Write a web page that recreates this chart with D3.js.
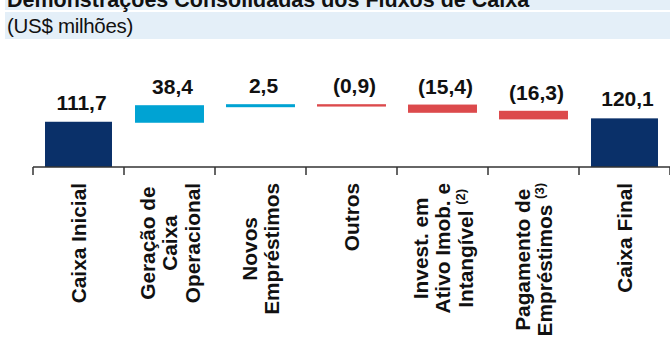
<!DOCTYPE html>
<html>
<head>
<meta charset="utf-8">
<script src="https://cdn.jsdelivr.net/npm/d3@7"></script>
<style>
  body { margin: 0; background: #fff; }
  svg { display: block; font-family: "Liberation Sans", Arial, sans-serif; }
</style>
</head>
<body>
<div id="chart"></div>
<script>
// chart data
var categories = [
    ["Caixa Inicial"],
    ["Geração de", "Caixa", "Operacional"],
    ["Novos", "Empréstimos"],
    ["Outros"],
    ["Invest. em", "Ativo Imob. e", "Intangível"],
    ["Pagamento de", "Empréstimos"],
    ["Caixa Final"]
];
var notes = [null, null, null, null, "(2)", "(3)", null];
var values = [111.7, 38.4, 2.5, -0.9, -15.4, -16.3, 120.1];
var kinds = ["total", "up", "up", "down", "down", "down", "total"];

var width = 670,
    height = 338,
    axisY = 167;

var colors = {total: "#0a3069", up: "#00a3d3", down: "#dc4a4c"};

var svg = d3.select("#chart").append("svg")
    .attr("width", width)
    .attr("height", height);

// header bands
svg.append("rect").attr("x", 5).attr("y", 0).attr("width", width - 5).attr("height", 10)
    .attr("fill", "#e4eff8");
svg.append("rect").attr("x", 5).attr("y", 12).attr("width", width - 5).attr("height", 27)
    .attr("fill", "#e4eff8");
svg.append("text").attr("x", 7).attr("y", 7)
    .attr("font-size", "21.5px").attr("font-weight", "bold").attr("fill", "#111")
    .text("Demonstrações Consolidadas dos Fluxos de Caixa");
svg.append("text").attr("x", 7).attr("y", 33)
    .attr("font-size", "20.5px").attr("letter-spacing", "-0.3px").attr("fill", "#111")
    .text("(US$ milhões)");

// waterfall steps
var running = 0;
var steps = values.map(function(v, i) {
    var s;
    if (kinds[i] == "total") {
        s = {start: 0, end: v};
        running = v;
    } else {
        s = {start: running, end: running + v};
        running += v;
    }
    s.i = i;
    s.value = v;
    s.kind = kinds[i];
    return s;
});

var x = d3.scaleBand()
    .domain(d3.range(categories.length))
    .range([33, width])
    .paddingInner(0.264)
    .paddingOuter(0.132);

var y = d3.scaleLinear()
    .domain([0, 200])
    .range([axisY, axisY - 200 * 0.405]);

var fmt = d3.formatLocale({decimal: ",", thousands: ".", grouping: [3], currency: ["", ""]})
    .format(".1f");

// bars
svg.selectAll("rect.bar")
    .data(steps)
    .enter().append("rect")
    .attr("class", "bar")
    .attr("x", function(d) { return x(d.i); })
    .attr("width", x.bandwidth())
    .attr("y", function(d) { return y(Math.max(d.start, d.end)); })
    .attr("height", function(d) { return Math.abs(y(d.start) - y(d.end)); })
    .attr("fill", function(d) { return colors[d.kind]; })
    .attr("stroke", function(d) { return d.kind == "total" ? "none" : colors[d.kind]; })
    .attr("stroke-width", 2);

// value labels
svg.selectAll("text.val")
    .data(steps)
    .enter().append("text")
    .attr("class", "val")
    .attr("x", function(d) { return x(d.i) + x.bandwidth() / 2 + 3; })
    .attr("y", function(d) { return y(Math.max(d.start, d.end)) - 12; })
    .attr("text-anchor", "middle")
    .attr("font-size", "21px")
    .attr("font-weight", "bold")
    .attr("fill", "#111")
    .text(function(d) { return d.value < 0 ? "(" + fmt(-d.value) + ")" : fmt(d.value); });

// axis line and boundary ticks
var bounds = d3.range(categories.length + 1).map(function(i) { return x.range()[0] + i * x.step(); });
svg.append("line")
    .attr("x1", bounds[0]).attr("x2", width)
    .attr("y1", axisY).attr("y2", axisY)
    .attr("stroke", "#333").attr("stroke-width", 1.5);
svg.selectAll("line.tick")
    .data(bounds)
    .enter().append("line")
    .attr("class", "tick")
    .attr("x1", function(d) { return d; }).attr("x2", function(d) { return d; })
    .attr("y1", axisY).attr("y2", axisY + 8)
    .attr("stroke", "#333").attr("stroke-width", 1.5);

// rotated category labels, block anchored at the axis, lines centred
var lineH = 22.5;
categories.forEach(function(lines, i) {
    var cx = x(i) + x.bandwidth() / 2;
    var g = svg.append("g")
        .attr("transform", "translate(" + cx + ",183) rotate(-90)");
    var texts = lines.map(function(line, j) {
        var t = g.append("text")
            .attr("y", (j - (lines.length - 1) / 2) * lineH + 7.5)
            .attr("text-anchor", "end")
            .attr("font-size", "20.8px")
            .attr("font-weight", "bold")
            .attr("fill", "#111");
        t.append("tspan").text(line);
        if (j == lines.length - 1 && notes[i]) {
            t.append("tspan").text(" ");
            t.append("tspan").attr("font-size", "13px").attr("dy", -8).text(notes[i]);
        }
        return t;
    });
    var lens = texts.map(function(t) { return t.node().getComputedTextLength(); });
    var block = d3.max(lens);
    texts.forEach(function(t, j) {
        t.attr("x", -(block - lens[j]) / 2);
    });
});
</script>
</body>
</html>
